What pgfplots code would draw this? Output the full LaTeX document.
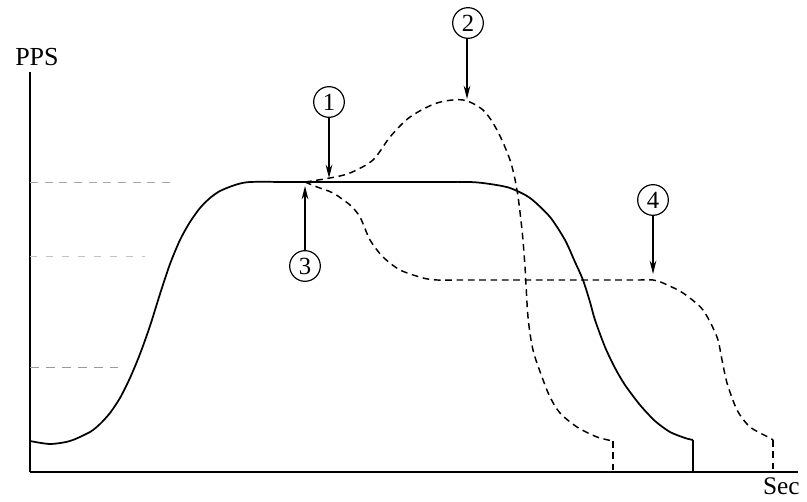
\documentclass[border=0pt]{standalone}
\usepackage{pgfplots}
\pgfplotsset{compat=1.18}
\usepackage{fontspec}
\setmainfont{Liberation Serif}
\usetikzlibrary{arrows.meta}
\begin{document}
\begin{tikzpicture}
\begin{axis}[
  scale only axis, width=576pt, height=300pt,
  xmin=0, xmax=768, ymin=0, ymax=400,
  axis x line=bottom, axis y line=left,
  axis line style={-, line width=1.5pt},
  xtick=\empty, ytick=\empty,
  clip=false,
]
% bounding box of the whole picture
\path (axis cs:-30,472) rectangle (axis cs:777,-30);
% reference levels
\addplot[gray!70, line width=0.5pt, dash pattern=on 6pt off 5pt] coordinates {(0,290) (145,290)};
\addplot[gray!50, line width=0.5pt, dash pattern=on 5pt off 7pt] coordinates {(0,216) (115,216)};
\addplot[gray!80, line width=0.6pt, dash pattern=on 7pt off 5pt] coordinates {(0,105) (88,105)};
% solid curve
\addplot[black, line width=1.3pt, smooth, tension=0.45] coordinates {
 (0,31) (20,28) (40,31) (60,40) (70,48) (80,59) (90,74) (100,94) (110,118) (120,146) (130,178) (140,208) (150,232) (160,250) (170,264) (180,274) (190,281) (205,287) (220,290) (260,290) (300,290) (350,290) (400,290) (440,290) (460,288) (480,284) (500,274) (520,255) (535,232) (545,210) (553,192) (560,170) (565,152) (575,125) (585,104) (595,87) (610,67) (625,51) (640,40) (655,34) (663,32)};
\addplot[black, line width=1.3pt] coordinates {(663,32) (663,0)};
% dashed curve 2
\addplot[black, line width=1.1pt, dash pattern=on 5pt off 3.5pt, smooth, tension=0.5] coordinates {
 (275,290) (300,294) (320,299) (343,312) (360,335) (380,355) (407,369) (433,372) (453,362) (467,342) (480,312) (487,282) (492,242) (495,205) (498,155) (503,122) (512,95) (520,75) (530,59) (547,45) (567,35) (583,31)};
\addplot[black, line width=1.1pt, dash pattern=on 5pt off 3.5pt] coordinates {(583,31) (583,0)};
% dashed curve 3/4
\addplot[black, line width=1.1pt, dash pattern=on 5pt off 3.5pt, smooth, tension=0.45] coordinates {
 (275,290) (287,285) (303,279) (320,267) (330,255) (340,232) (353,215) (370,202) (393,194) (407,192) (430,192) (480,192) (530,192) (580,192) (610,192) (623,192) (633,189) (653,179) (673,162) (687,135) (692,112) (697,89) (707,62) (720,45) (740,34) (743,32)};
\addplot[black, line width=1.1pt, dash pattern=on 5pt off 3.5pt] coordinates {(743,32) (743,0)};
% annotations
\tikzset{lbl/.style={circle, draw, line width=0.9pt, minimum size=23pt, inner sep=0pt, font=\fontsize{18.5}{18.5}\selectfont},
         arr/.style={-{Stealth[length=10pt,width=5pt]}, line width=1.1pt}}
\node[lbl] at (axis cs:299,370) {1};
\draw[arr] (axis cs:299,354) -- (axis cs:299,294);
\node[lbl] at (axis cs:438,449) {2};
\draw[arr] (axis cs:437,433) -- (axis cs:437,373);
\node[lbl] at (axis cs:275,206) {3};
\draw[arr] (axis cs:275,222) -- (axis cs:275,286);
\node[lbl] at (axis cs:623,272) {4};
\draw[arr] (axis cs:623,256) -- (axis cs:623,198);
\node[font=\fontsize{19.5}{19.5}\selectfont, anchor=base west, inner sep=0pt] at (axis cs:-15,406) {PPS};
\node[font=\fontsize{19}{19}\selectfont, anchor=base east, inner sep=0pt] at (axis cs:770,-23) {Sec};
\end{axis}
\end{tikzpicture}
\end{document}
